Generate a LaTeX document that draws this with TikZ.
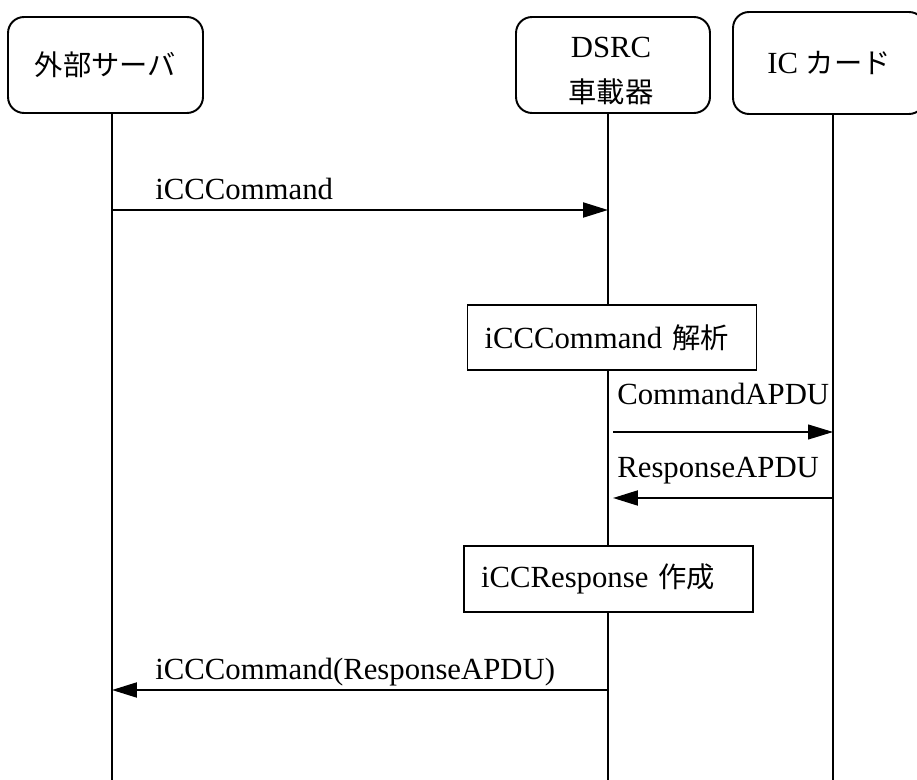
\documentclass[tikz,border=0pt]{standalone}
\usepackage{fontspec}
\setmainfont{Liberation Serif}
\newfontfamily\jp[Scale=0.92]{Noto Sans CJK JP}
\usetikzlibrary{arrows.meta}

\tikzset{
    actor/.style={draw, line width=1.1pt, rounded corners=0.32cm, inner sep=0pt, align=center},
    procbox/.style={draw, line width=1.1pt, minimum height=1.3cm, inner xsep=0.34cm, text width=5.1cm, align=left},
    lifeline/.style={line width=0.9pt},
    msg/.style={-{Triangle[length=0.5cm, width=0.3cm]}, line width=1.2pt},
    msglabel/.style={anchor=base west, inner sep=0pt}
}

\begin{document}
\begin{tikzpicture}[x=0.02cm, y=-0.02cm, font=\fontsize{17.5}{21}\selectfont]
        \useasboundingbox (0,0) rectangle (917,780);

        % Teilnehmer
        \node[actor, minimum width=3.9cm, minimum height=1.92cm] (server) at (105.5,65) {\jp 外部サーバ};
        \node[actor, minimum width=3.88cm, minimum height=1.92cm] (obu) at (613,65) {};
        \node at (611,47) {DSRC};
        \node at (611,92) {\jp 車載器};
        \node[actor, minimum width=3.84cm, minimum height=2.04cm] (card) at (829,63) {IC {\jp カード}};

        % Lebenslinien
        \coordinate (server-end) at (112,780);
        \coordinate (obu-end) at (608,780);
        \coordinate (card-end) at (833,780);
        \draw[lifeline] (server.south -| server-end) -- (server-end);
        \draw[lifeline] (card.south -| card-end) -- (card-end);

        % Verarbeitung im Fahrzeuggeraet
        \node[procbox] (parse) at (612,337.5) {iCCCommand {\jp 解析}};
        \node[procbox, minimum height=1.32cm] (build) at (608.5,579) {iCCResponse {\jp 作成}};
        \draw[lifeline] (obu.south -| obu-end) -- (parse.north -| obu-end);
        \draw[lifeline] (parse.south -| obu-end) -- (build.north -| obu-end);
        \draw[lifeline] (build.south -| obu-end) -- (obu-end);

        % Nachrichten
        \coordinate (m1a) at (112,210);
        \coordinate (m1b) at (608,210);
        \draw[msg] (m1a) -- (m1b);
        \node[msglabel] (m1) at (155,200) {iCCCommand};

        \coordinate (m2a) at (613,432);
        \coordinate (m2b) at (833,432);
        \draw[msg, line width=0.6pt] (m2a) -- (m2b);
        \node[msglabel] (m2) at (617,405) {CommandAPDU};

        \coordinate (m3a) at (833,498);
        \coordinate (m3b) at (613,498);
        \draw[msg] (m3a) -- (m3b);
        \node[msglabel] (m3) at (617,478) {ResponseAPDU};

        \coordinate (m4a) at (608,690);
        \coordinate (m4b) at (112,690);
        \draw[msg] (m4a) -- (m4b);
        \node[msglabel] (m4) at (155,680) {iCCCommand(ResponseAPDU)};

    \end{tikzpicture}
\end{document}
